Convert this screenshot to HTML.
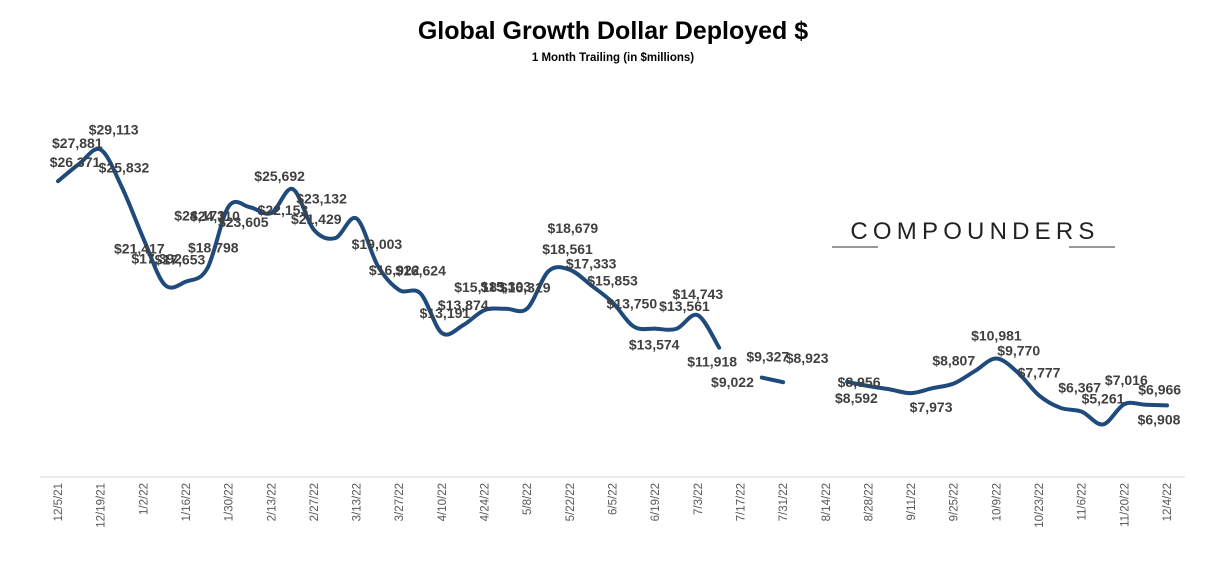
<!DOCTYPE html>
<html><head><meta charset="utf-8"><style>
body{margin:0;background:#fff;width:1226px;height:560px;overflow:hidden;font-family:"Liberation Sans",sans-serif}
svg text{font-family:"Liberation Sans",sans-serif}
</style></head><body>
<svg id="chart" width="1226" height="560" viewBox="0 0 1226 560" xmlns="http://www.w3.org/2000/svg">
<text x="613" y="39" text-anchor="middle" font-size="25" font-weight="bold" fill="#000">Global Growth Dollar Deployed $</text>
<text x="613" y="61" text-anchor="middle" font-size="11.5" font-weight="bold" fill="#000">1 Month Trailing (in $millions)</text>
<g>
<text x="975" y="239" text-anchor="middle" font-size="24" letter-spacing="5.2" fill="#222">COMPOUNDERS</text>
<line x1="832" y1="247" x2="878" y2="247" stroke="#777" stroke-width="1.5"/>
<line x1="1069" y1="247" x2="1115" y2="247" stroke="#777" stroke-width="1.5"/>
</g>
<line x1="40" y1="477" x2="1185" y2="477" stroke="#d9d9d9" stroke-width="1"/>
<g id="ticks"></g>
<g id="series"></g>
<g id="labels"></g>
</svg>
<script>
const categories = ["12/5/21","12/12/21","12/19/21","12/26/21","1/2/22","1/9/22","1/16/22","1/23/22","1/30/22","2/6/22","2/13/22","2/20/22","2/27/22","3/6/22","3/13/22","3/20/22","3/27/22","4/3/22","4/10/22","4/17/22","4/24/22","5/1/22","5/8/22","5/15/22","5/22/22","5/29/22","6/5/22","6/12/22","6/19/22","6/26/22","7/3/22","7/10/22","7/17/22","7/24/22","7/31/22","8/7/22","8/14/22","8/21/22","8/28/22","9/4/22","9/11/22","9/18/22","9/25/22","10/2/22","10/9/22","10/16/22","10/23/22","10/30/22","11/6/22","11/13/22","11/20/22","11/27/22","12/4/22"];
const values = [26371,27881,29113,25832,21417,17392,17653,18798,24173,24110,23605,25692,22153,21429,23132,19003,16922,16624,13191,13874,15183,15303,15319,18561,18679,17333,15853,13750,13574,13561,14743,11918,null,9327,8923,null,null,8956,8592,8300,7973,8400,8807,9900,10981,9770,7777,6700,6367,5261,7016,6966,6908];
const valueLabels = ["$26,371","$27,881","$29,113","$25,832","$21,417","$17,392","$17,653","$18,798","$24,173","$24,110","$23,605","$25,692","$22,153","$21,429","$23,132","$19,003","$16,922","$16,624","$13,191","$13,874","$15,183","$15,303","$16,319","$18,561","$18,679","$17,333","$15,853","$13,750","$13,574","$13,561","$14,743","$11,918","$9,022","$9,327","$8,923","","","$8,956","$8,592","","$7,973","","$8,807","","$10,981","$9,770","$7,777","","$6,367","$5,261","$7,016","$6,966","$6,908"];
const labelDx = {0:17,1:-2,2:13,3:2,4:-4,5:-8,6:-6,7:6,8:-29,9:-35,10:-28,11:-13,12:-31,13:-19,14:-35,15:-1,16:-5,17:0,18:3,19:0,20:-5,21:0,22:-2,23:19,24:3,25:0,26:0,27:-2,28:-1,29:8,30:0,31:-7,32:-8,33:6,34:24,37:12,38:-12,40:20,42:0,44:0,45:1,46:0,48:-2,49:0,50:2,51:14,52:-8};
const labelDy = {0:-19,1:-21,2:-20,3:-20,4:10,5:-26,6:-22,7:-21,8:9,9:9,10:9,11:-13,12:-20,13:-19,14:-20,15:-22,16:-20,17:-23,18:-20,19:-20,20:-23,21:-22,22:-21,23:-22,24:-42,25:-22,26:-22,27:-23,28:16,29:-23,30:-21,31:14,32:1,33:-21,34:-24,37:0,38:12,40:14,42:-23,44:-23,45:-22,46:-23,48:-24,49:-26,50:-24,51:-15,52:14};
const NS="http://www.w3.org/2000/svg";
const x0=58,x1=1167,vScale=86.8,yZero=485;
const xPos=i=>x0+i*(x1-x0)/(categories.length-1);
const yPos=v=>yZero-v/vScale;
const ticks=document.getElementById('ticks');
categories.forEach((c,i)=>{ if(i%2) return;
  const t=document.createElementNS(NS,'text');
  
  
  const x=xPos(i)+4,y=483;
  t.setAttribute('transform',`translate(${x},${y}) rotate(-90)`);
  t.setAttribute('text-anchor','end');t.setAttribute('font-size','11.5');t.setAttribute('fill','#595959');
  t.textContent=c;ticks.appendChild(t);
});
const segs=[];let cur=[];
values.forEach((v,i)=>{ if(v==null){ if(cur.length) segs.push(cur); cur=[]; } else cur.push([xPos(i),yPos(v)]); });
if(cur.length) segs.push(cur);
const series=document.getElementById('series');
segs.forEach(p=>{
  if(p.length<2) return;
  let d=`M${p[0][0]},${p[0][1]}`;
  for(let i=0;i<p.length-1;i++){
    const a=p[i-1]||p[i],b=p[i],c=p[i+1],e=p[i+2]||c;
    const c1=[b[0]+(c[0]-a[0])/6,b[1]+(c[1]-a[1])/6],c2=[c[0]-(e[0]-b[0])/6,c[1]-(e[1]-b[1])/6];
    d+=` C${c1[0]},${c1[1]} ${c2[0]},${c2[1]} ${c[0]},${c[1]}`;
  }
  const path=document.createElementNS(NS,'path');
  
  
  path.setAttribute('d',d);path.setAttribute('fill','none');path.setAttribute('stroke','#1f4a7c');path.setAttribute('stroke-width','4');path.setAttribute('stroke-linecap','round');
  series.appendChild(path);
});
const labels=document.getElementById('labels');
valueLabels.forEach((s,i)=>{ if(!s) return;
  const v=values[i]!=null?values[i]:9022;
  const t=document.createElementNS(NS,'text');
  
  
  const dy=(labelDy[i]!==undefined?labelDy[i]:-17)+5, dx=labelDx[i]||0;
  t.setAttribute('x',xPos(i)+dx);t.setAttribute('y',yPos(v)+dy);
  t.setAttribute('text-anchor','middle');t.setAttribute('font-size','14');t.setAttribute('font-weight','bold');t.setAttribute('fill','#404040');
  t.textContent=s;labels.appendChild(t);
});
</script>
</body></html>
